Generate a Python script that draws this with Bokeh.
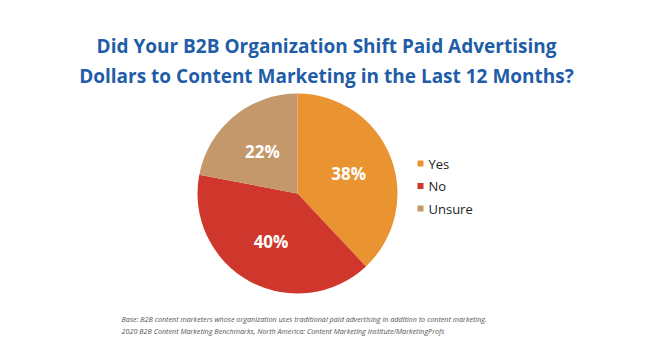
import math
from bokeh.plotting import figure
from bokeh.models import Range1d, ColumnDataSource
from bokeh.core.properties import value
from bokeh.embed import file_html
from bokeh.resources import INLINE

title_lines = ["Did Your B2B Organization Shift Paid Advertising",
               "Dollars to Content Marketing in the Last 12 Months?"]
categories = ["Yes", "No", "Unsure"]
shares = [38, 40, 22]
colors = ["#E99431", "#CF372C", "#C4986A"]
footnotes = ["Base: B2B content marketers whose organization uses traditional paid advertising in addition to content marketing.",
             "2020 B2B Content Marketing Benchmarks, North America: Content Marketing Institute/MarketingProfs"]

W, H = 650, 356
p = figure(width=W, height=H, x_range=Range1d(0, W), y_range=Range1d(0, H),
           output_backend="svg", toolbar_location=None, min_border=0)
p.axis.visible = False
p.grid.visible = False
p.outline_line_color = None
p.background_fill_color = "white"
p.border_fill_color = "white"

cx, cy, r = 297, H - 193, 100
total = sum(shares)
starts, ends, lx, ly, labels = [], [], [], [], []
cum = 0
for s in shares:
    a0 = math.pi / 2 - 2 * math.pi * cum / total
    cum += s
    a1 = math.pi / 2 - 2 * math.pi * cum / total
    starts.append(a0)
    ends.append(a1)
    mid = (a0 + a1) / 2
    lx.append(cx + 0.55 * r * math.cos(mid))
    ly.append(cy + 0.55 * r * math.sin(mid))
    labels.append(f"{s}%")

src = ColumnDataSource(dict(start=starts, end=ends, color=colors, lx=lx, ly=ly, label=labels))
p.wedge(x=cx, y=cy, radius=r, start_angle="start", end_angle="end", direction="clock",
        fill_color="color", line_color=None, source=src)
p.text(x="lx", y="ly", text="label", source=src, text_color="white",
       text_font=value("Open Sans"), text_font_style="bold", text_font_size="17px",
       text_align="center", text_baseline="middle")

# title
p.text(x=[W / 2 + 1] * 2, y=[H - 45, H - 75], text=title_lines, text_color="#1F5DA8",
       text_font=value("Open Sans"), text_font_style="bold", text_font_size="19px",
       text_align="center", text_baseline="middle")

# legend
leg_y = [H - 163, H - 185.5, H - 208]
p.scatter(x=[420] * 3, y=leg_y, marker="square", size=6, fill_color=colors, line_color=None)
p.text(x=[428] * 3, y=leg_y, text=categories, text_color="#222222",
       text_font=value("Open Sans"), text_font_size="13px", text_baseline="middle")

# footnotes
p.text(x=[121, 121], y=[H - 318, H - 330], text=footnotes, text_color="#555555",
       text_font=value("Open Sans"), text_font_style="italic", text_font_size="7.2px",
       text_baseline="middle")

open("out.html", "w").write(file_html(p, INLINE))
